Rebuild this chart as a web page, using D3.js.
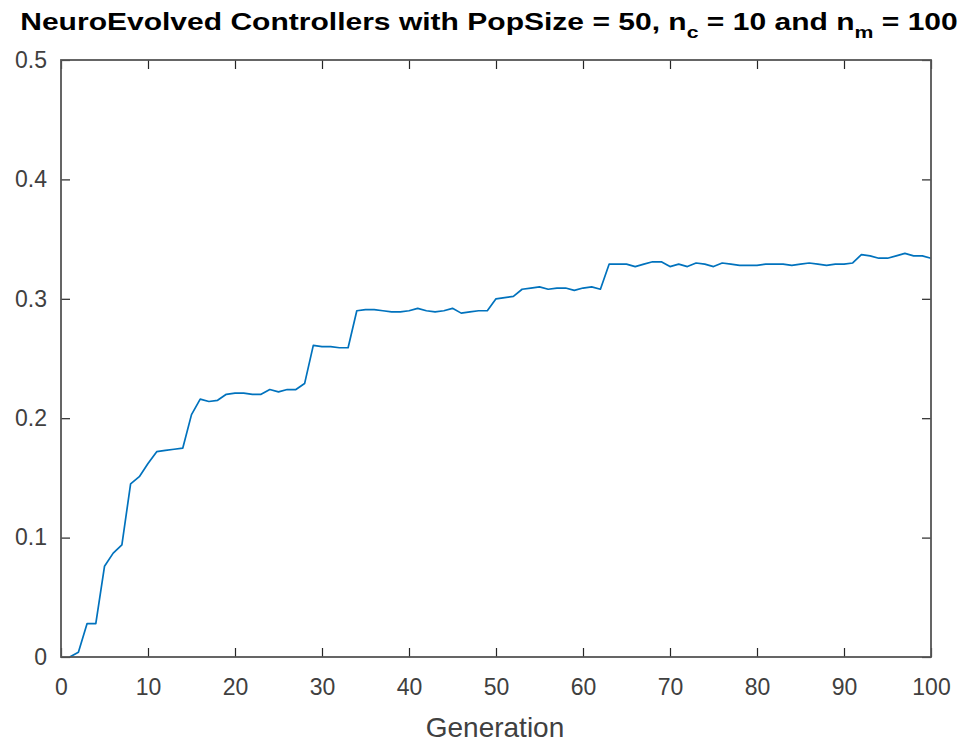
<!DOCTYPE html>
<html><head><meta charset="utf-8">
<script src="https://cdn.jsdelivr.net/npm/d3@7"></script>
<style>body{margin:0;background:#fff;}svg{display:block;}</style>
</head><body>
<script>
const generations = d3.range(1, 101);
const fitness = [
0.000,0.004,0.028,0.028,0.076,0.087,0.094,0.145,0.151,0.162,
0.172,0.173,0.174,0.175,0.203,0.216,0.214,0.215,0.220,0.221,
0.221,0.220,0.220,0.224,0.222,0.224,0.224,0.229,0.261,0.260,
0.260,0.259,0.259,0.290,0.291,0.291,0.290,0.289,0.289,0.290,
0.292,0.290,0.289,0.290,0.292,0.288,0.289,0.290,0.290,0.300,
0.301,0.302,0.308,0.309,0.310,0.308,0.309,0.309,0.307,0.309,
0.310,0.308,0.329,0.329,0.329,0.327,0.329,0.331,0.331,0.327,
0.329,0.327,0.330,0.329,0.327,0.330,0.329,0.328,0.328,0.328,
0.329,0.329,0.329,0.328,0.329,0.330,0.329,0.328,0.329,0.329,
0.330,0.337,0.336,0.334,0.334,0.336,0.338,0.336,0.336,0.334];
const xTicks = [0,10,20,30,40,50,60,70,80,90,100];
const yTicks = [0,0.1,0.2,0.3,0.4,0.5];

const W = 966, H = 742;
const m = {left:61, right:35, top:60, bottom:85};
const svg = d3.select("body").append("svg").attr("width", W).attr("height", H);
const x = d3.scaleLinear().domain([0,100]).range([m.left, W - m.right]);
const y = d3.scaleLinear().domain([0,0.5]).range([H - m.bottom, m.top]);
const font = "'Liberation Sans', Arial, Helvetica, sans-serif";
const axCol = "#262626";

// line
svg.append("path")
  .datum(generations.map((g,i)=>[g, fitness[i]]))
  .attr("fill","none").attr("stroke","#0072BD").attr("stroke-width",1.7)
  .attr("stroke-linejoin","round")
  .attr("d", d3.line().x(d=>x(d[0])).y(d=>y(d[1])));

const tl = 9;
function styleAxis(g){
  g.select(".domain").remove();
  g.selectAll(".tick line").attr("stroke", axCol).attr("stroke-width",1.2);
  g.selectAll(".tick text").attr("fill", "#404040").style("font-family", font).style("font-size","23px");
}
// bottom
svg.append("g").attr("transform",`translate(0,${y(0)})`)
  .call(d3.axisBottom(x).tickValues(xTicks).tickSize(-tl).tickPadding(22).tickFormat(d3.format("d")))
  .call(styleAxis);
// top
svg.append("g").attr("transform",`translate(0,${y(0.5)})`)
  .call(d3.axisTop(x).tickValues(xTicks).tickSize(-tl).tickFormat(""))
  .call(styleAxis);
// left
svg.append("g").attr("transform",`translate(${x(0)},0)`)
  .call(d3.axisLeft(y).tickValues(yTicks).tickSize(-tl).tickPadding(14).tickFormat(d=>d===0?"0":d3.format(".1f")(d)))
  .call(styleAxis);
// right
svg.append("g").attr("transform",`translate(${x(100)},0)`)
  .call(d3.axisRight(y).tickValues(yTicks).tickSize(-tl).tickFormat(""))
  .call(styleAxis);

// frame
svg.append("rect").attr("x", x(0)).attr("y", y(0.5))
  .attr("width", x(100)-x(0)).attr("height", y(0)-y(0.5))
  .attr("fill","none").attr("stroke","#555").attr("stroke-width",1.8);

// x label
svg.append("text").attr("x", 495).attr("y", 737)
  .attr("text-anchor","middle").attr("fill","#404040")
  .style("font-family",font).style("font-size","28px").text("Generation");

// title
const tg = svg.append("g");
const t = tg.append("text").attr("x", 0).attr("y", 0)
  .attr("text-anchor","middle").attr("fill","#000")
  .style("font-family",font).style("font-size","24px").style("font-weight","bold");
t.append("tspan").text("NeuroEvolved Controllers with PopSize = 50, n");
t.append("tspan").attr("dy",8).style("font-size","17px").text("c");
t.append("tspan").attr("dy",-8).text(" = 10 and n");
t.append("tspan").attr("dy",8).style("font-size","17px").text("m");
t.append("tspan").attr("dy",-8).text(" = 100");
const bb = t.node().getBBox();
const targetW = 938, sx = targetW / bb.width;
tg.attr("transform", `translate(${489 - (bb.x + bb.width/2)*sx},30) scale(${sx},1)`);
</script>
</body></html>
